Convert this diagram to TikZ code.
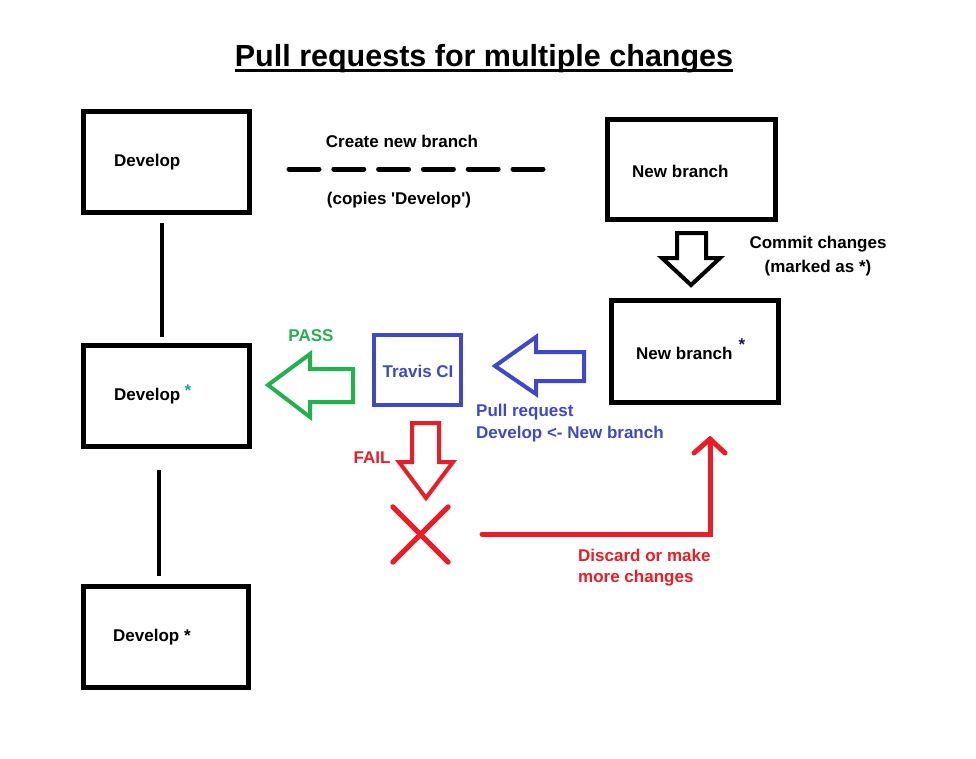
\documentclass[tikz,border=0pt]{standalone}
\usepackage{fontspec}
\setmainfont{Liberation Sans}
\definecolor{pred}{RGB}{237,28,36}
\definecolor{pgreen}{RGB}{34,177,76}
\definecolor{pblue}{RGB}{63,72,204}
\definecolor{pteal}{RGB}{30,170,150}
\definecolor{pnavy}{RGB}{20,20,90}
\begin{document}
\begin{tikzpicture}[x=1pt,y=-1pt,
  box/.style={draw=black,line width=5pt,minimum width=#1,minimum height=101pt,inner sep=0pt},
  box/.default=166pt,
  lbl/.style={font=\fontsize{17}{20}\selectfont\bfseries,inner sep=0pt},
  conn/.style={line width=4.5pt},
  blockarrow/.style={line width=4pt,line join=miter}
]
\useasboundingbox (0,0) rectangle (976,758);
% title
\node[font=\fontsize{30.5}{36}\selectfont\bfseries,inner sep=0pt,anchor=base] (title) at (484,66) {Pull requests for multiple changes};
\draw[line width=2.5pt] ([yshift=-4.5pt]title.base west) -- ([yshift=-4.5pt]title.base east);
% boxes
\node[box] (dev1) at (166,161.5) {};
\node[box] (dev2) at (166,395.5) {};
\node[box=165pt] (dev3) at (165.5,636.5) {};
\node[box=168pt,minimum height=100pt] (nb1) at (691,169) {};
\node[box=167pt,minimum height=102pt] (nb2) at (694.5,351) {};
\node[draw=pblue,line width=4pt,minimum width=87pt,minimum height=70pt,inner sep=0pt] (travis) at (417.5,370) {};
% box texts
\node[lbl,anchor=west] (t1) at (114,162) {Develop};
\node[lbl,anchor=west] (t2) at (114,396) {Develop};
\node[lbl,text=pteal] (s2) at (188,391) {*};
\node[lbl,anchor=west] (t3) at (113,637) {Develop *};
\node[lbl,anchor=west] (t4) at (632,171) {New branch};
\node[lbl,anchor=west] (t5) at (636,353) {New branch};
\node[lbl,text=pnavy] (s5) at (742,345) {*};
\node[lbl,text=pblue] (tt) at (418,371) {Travis CI};
% vertical connectors
\coordinate (v1a) at (162,223); \coordinate (v1b) at (162,337);
\coordinate (v2a) at (159,470); \coordinate (v2b) at (159,576);
\draw[conn] (v1a) -- (v1b);
\draw[conn] (v2a) -- (v2b);
% dashed create branch
\coordinate (da) at (289,169); \coordinate (db) at (543,169);
\draw[line width=5pt,line cap=round,dash pattern=on 30pt off 14.8pt] (da) -- (db);
\node[lbl] (cnb) at (402,141) {Create new branch};
\node[lbl] (cop) at (399,200) {(copies \textquotesingle Develop\textquotesingle)};
% commit arrow (black, down)
\draw[blockarrow] (677,233) -- (706,233) -- (706,258) -- (720,258) -- (691,285) -- (662,258) -- (677,258) -- cycle;
\node[lbl] (cc1) at (818,244) {Commit changes};
\node[lbl] (cc2) at (818,268) {(marked as *)};
% blue arrow (left)
\draw[blockarrow,draw=pblue] (584,352) -- (536,352) -- (536,337) -- (495,366) -- (536,394) -- (536,381) -- (584,381) -- cycle;
\node[lbl,text=pblue,anchor=west] (pr1) at (476,412) {Pull request};
\node[lbl,text=pblue,anchor=west] (pr2) at (476,434) {Develop <- New branch};
% green arrow (left)
\draw[blockarrow,draw=pgreen] (353,369) -- (310,369) -- (310,354) -- (268,385) -- (310,417) -- (310,402) -- (353,402) -- cycle;
\node[lbl,text=pgreen] (pass) at (311,336) {PASS};
% red arrow (down)
\draw[blockarrow,draw=pred] (412,423) -- (439,423) -- (439,462) -- (453,462) -- (426,498) -- (399,462) -- (412,462) -- cycle;
\node[lbl,text=pred] (fail) at (372,458) {FAIL};
% red X
\node[minimum width=55pt,minimum height=55pt,inner sep=0pt] (cross) at (420.5,534.5) {};
\draw[pred,line width=5pt,line cap=round] (cross.north west) -- (cross.south east);
\draw[pred,line width=5pt,line cap=round] (cross.north east) -- (cross.south west);
% red elbow arrow
\coordinate (ea) at (482,534); \coordinate (eb) at (710,534); \coordinate (ec) at (710,439);
\draw[pred,line width=5pt,line cap=round,line join=miter] (ea) -- (eb) -- (ec);
\draw[pred,line width=5pt,line cap=round] (694,453) -- (ec) -- (725,453);
\node[lbl,text=pred,anchor=west] (d1) at (578,555) {Discard or make};
\node[lbl,text=pred,anchor=west] (d2) at (578,578) {more changes};
\end{tikzpicture}
\end{document}
